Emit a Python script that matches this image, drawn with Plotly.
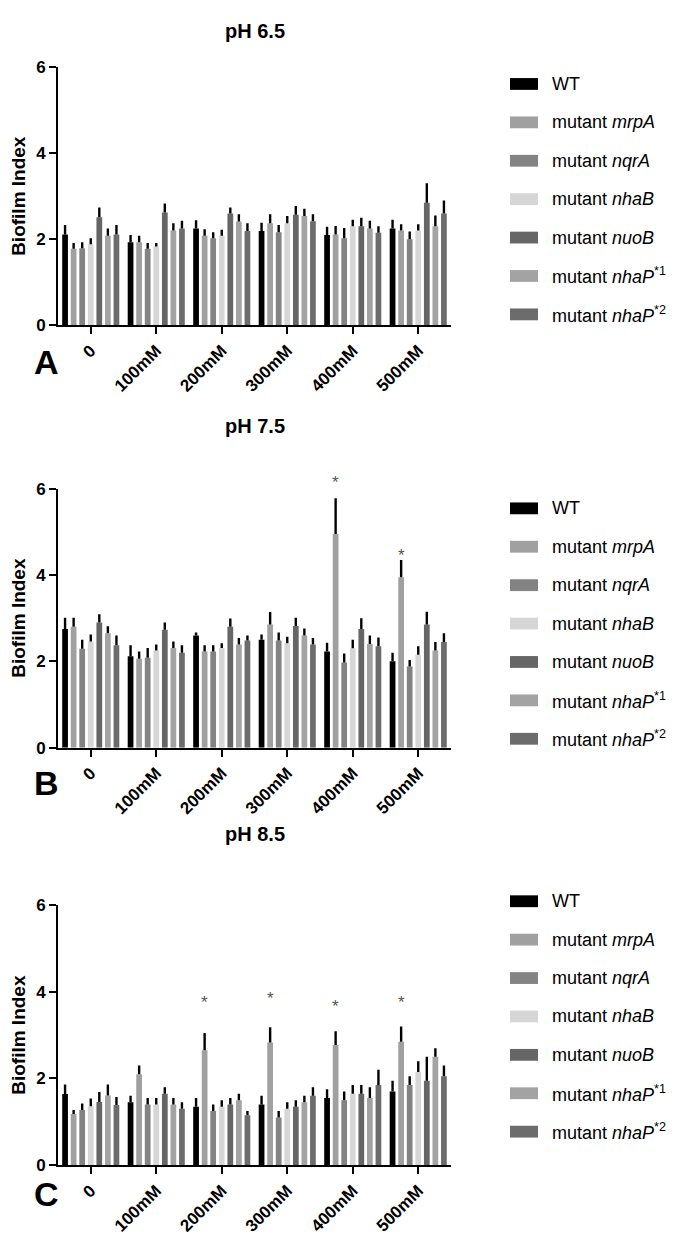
import plotly.graph_objects as go

W, H = 685, 1240

groups = ["0", "100mM", "200mM", "300mM", "400mM", "500mM"]
series = ["WT", "mrpA", "nqrA", "nhaB", "nuoB", "nhaP1", "nhaP2"]
legend_labels = ["WT", "mutant <i>mrpA</i>", "mutant <i>nqrA</i>", "mutant <i>nhaB</i>",
                 "mutant <i>nuoB</i>", "mutant <i>nhaP</i><sup>*1</sup>", "mutant <i>nhaP</i><sup>*2</sup>"]
colors = ["#000000", "#a0a0a0", "#838383", "#d6d6d6", "#666666", "#a3a3a3", "#6c6c6c"]

# pH 6.5 : mean values per series (rows) across groups (columns)
ph65_mean = [
    [2.11, 1.93, 2.25, 2.19, 2.10, 2.25],
    [1.78, 1.93, 2.08, 2.37, 2.11, 2.20],
    [1.79, 1.78, 2.02, 2.16, 2.02, 2.00],
    [1.88, 1.83, 2.08, 2.37, 2.30, 2.20],
    [2.51, 2.62, 2.60, 2.57, 2.30, 2.85],
    [2.08, 2.20, 2.41, 2.54, 2.25, 2.30],
    [2.11, 2.25, 2.19, 2.42, 2.15, 2.60],
]
ph65_err = [
    [0.22, 0.17, 0.19, 0.19, 0.19, 0.20],
    [0.13, 0.15, 0.15, 0.21, 0.20, 0.15],
    [0.14, 0.13, 0.14, 0.17, 0.24, 0.18],
    [0.14, 0.08, 0.14, 0.17, 0.15, 0.15],
    [0.23, 0.21, 0.14, 0.20, 0.20, 0.45],
    [0.17, 0.17, 0.17, 0.17, 0.18, 0.25],
    [0.22, 0.18, 0.18, 0.16, 0.15, 0.30],
]

# pH 7.5
ph75_mean = [
    [2.75, 2.12, 2.60, 2.50, 2.23, 2.00],
    [2.80, 2.06, 2.23, 2.85, 4.95, 3.95],
    [2.29, 2.08, 2.23, 2.48, 1.97, 1.88],
    [2.46, 2.25, 2.31, 2.42, 2.30, 2.15],
    [2.90, 2.73, 2.80, 2.82, 2.75, 2.85],
    [2.65, 2.31, 2.39, 2.60, 2.40, 2.25],
    [2.37, 2.20, 2.48, 2.39, 2.35, 2.45],
]
ph75_err = [
    [0.26, 0.25, 0.07, 0.12, 0.20, 0.20],
    [0.21, 0.17, 0.14, 0.29, 0.83, 0.40],
    [0.21, 0.23, 0.14, 0.19, 0.21, 0.15],
    [0.16, 0.14, 0.11, 0.15, 0.20, 0.20],
    [0.19, 0.17, 0.19, 0.19, 0.25, 0.30],
    [0.16, 0.15, 0.15, 0.16, 0.20, 0.20],
    [0.23, 0.17, 0.12, 0.15, 0.20, 0.20],
]
ph75_star = [None, None, None, None, 6.15, 4.45]

# pH 8.5
ph85_mean = [
    [1.64, 1.45, 1.35, 1.40, 1.55, 1.70],
    [1.18, 2.10, 2.65, 2.83, 2.77, 2.85],
    [1.27, 1.40, 1.25, 1.10, 1.50, 1.85],
    [1.36, 1.40, 1.35, 1.30, 1.65, 2.15],
    [1.46, 1.65, 1.40, 1.35, 1.65, 1.95],
    [1.61, 1.40, 1.50, 1.45, 1.55, 2.50],
    [1.39, 1.30, 1.15, 1.60, 1.85, 2.05],
]
ph85_err = [
    [0.22, 0.15, 0.20, 0.20, 0.20, 0.25],
    [0.09, 0.20, 0.40, 0.35, 0.32, 0.35],
    [0.15, 0.15, 0.15, 0.15, 0.20, 0.20],
    [0.18, 0.15, 0.15, 0.15, 0.20, 0.25],
    [0.23, 0.15, 0.15, 0.15, 0.20, 0.55],
    [0.25, 0.15, 0.15, 0.15, 0.25, 0.20],
    [0.18, 0.15, 0.10, 0.20, 0.35, 0.25],
]
ph85_star = [None, None, 3.75, 3.85, 3.67, 3.75]

panels = [
    dict(title="pH 6.5", letter="A", mean=ph65_mean, err=ph65_err, star=[None] * 6),
    dict(title="pH 7.5", letter="B", mean=ph75_mean, err=ph75_err, star=ph75_star),
    dict(title="pH 8.5", letter="C", mean=ph85_mean, err=ph85_err, star=ph85_star),
]

# layout geometry (pixels)
x_left, x_right = 50, 443
panel_px = [(51, 313), (479, 742), (902, 1166)]
legend_top_px = [68, 499, 898]
title_px = [14, 415, 830]
letter_off = [37, 36, 29]
legend_step = 39
BARGAP, BARGROUPGAP = 0.085, 0.33
YMAX = 6

def px_x(p):
    return p / W

def px_y(p):
    return 1 - p / H

FONT = "Arial, Liberation Sans, sans-serif"

fig = go.Figure()
annotations = []
shapes = []

for k, pan in enumerate(panels):
    ax = "" if k == 0 else str(k + 1)
    for i, s in enumerate(series):
        fig.add_trace(go.Bar(
            x=groups, y=pan["mean"][i], name=s,
            marker=dict(color=colors[i], line=dict(width=0)),
            error_y=dict(type="data", array=pan["err"][i], symmetric=False,
                         arrayminus=[0] * len(groups), color="black",
                         thickness=2.4, width=0),
            xaxis="x" + ax, yaxis="y" + ax, showlegend=False,
        ))
    top, bot = panel_px[k]
    fig.update_layout(**{
        "xaxis" + ax: dict(domain=[px_x(x_left), px_x(x_right)], anchor="y" + ax,
                           type="category", range=[-0.5, 5.5],
                           showline=True, linecolor="black", linewidth=2,
                           ticks="outside", ticklen=7, tickwidth=2, tickcolor="black",
                           tickangle=-45, showgrid=False, zeroline=False,
                           tickfont=dict(family=FONT, size=17, color="black", weight="bold")),
        "yaxis" + ax: dict(domain=[px_y(bot), px_y(top)], anchor="x" + ax,
                           range=[0, YMAX], dtick=2, showline=True, linecolor="black",
                           linewidth=2, ticks="outside", ticklen=7, tickwidth=2,
                           tickcolor="black", showgrid=False, zeroline=False,
                           tickfont=dict(family=FONT, size=17, color="black", weight="bold"),
                           title=dict(text="<b>Biofilm Index</b>", standoff=5,
                                      font=dict(family=FONT, size=19, color="black"))),
    })
    # panel title
    annotations.append(dict(text="<b>" + pan["title"] + "</b>", xref="paper", yref="paper",
                            x=px_x((x_left + x_right) / 2), y=px_y(title_px[k]),
                            showarrow=False, xanchor="center", yanchor="middle",
                            font=dict(family=FONT, size=20, color="black")))
    # panel letter
    annotations.append(dict(text="<b>" + pan["letter"] + "</b>", xref="paper", yref="paper",
                            x=px_x(38), y=px_y(bot + letter_off[k]), showarrow=False,
                            xanchor="center", yanchor="middle",
                            font=dict(family=FONT, size=34, color="black")))
    # significance asterisks above mrpA bars (x in category units, y as fraction of axis)
    slot = (1 - BARGAP) / len(series)
    off = -(1 - BARGAP) / 2 + 1.5 * slot
    for g, v in enumerate(pan["star"]):
        if v is not None:
            annotations.append(dict(text="*", x=g + off, y=v / YMAX, xref="x" + ax,
                                    yref="y" + ax + " domain",
                                    showarrow=False, xanchor="center", yanchor="middle",
                                    font=dict(family=FONT, size=17, color="#555555")))
    # legend
    for i, lab in enumerate(legend_labels):
        cy = legend_top_px[k] + i * legend_step
        shapes.append(dict(type="rect", xref="paper", yref="paper",
                           x0=px_x(502), x1=px_x(530), y0=px_y(cy + 6), y1=px_y(cy - 6),
                           fillcolor=colors[i], line=dict(width=0)))
        annotations.append(dict(text=lab, xref="paper", yref="paper",
                                x=px_x(542), y=px_y(cy), showarrow=False,
                                xanchor="left", yanchor="middle",
                                font=dict(family=FONT, size=18, color="black")))

fig.update_layout(
    width=W, height=H, margin=dict(l=0, r=0, t=0, b=0),
    barmode="group", bargap=BARGAP, bargroupgap=BARGROUPGAP,
    paper_bgcolor="white", plot_bgcolor="white",
    annotations=annotations, shapes=shapes, showlegend=False,
    font=dict(family=FONT, color="black"),
)

fig.write_html("out.html")
